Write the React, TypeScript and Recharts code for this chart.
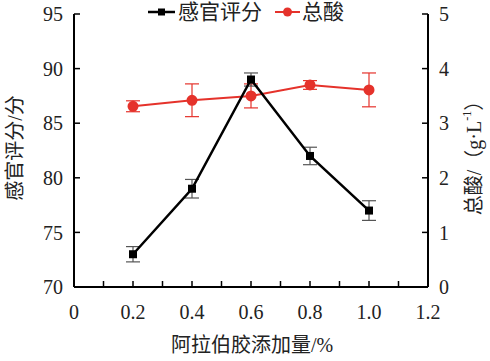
import { ComposedChart, Line, XAxis, YAxis, ErrorBar } from 'recharts'

// 阿拉伯胶添加量 (%)
const doses = [0.2, 0.4, 0.6, 0.8, 1.0]
// 感官评分 (left axis)
const sensoryScore = [73, 79, 89, 82, 77]
const sensoryErr = [0.7, 0.85, 0.6, 0.8, 0.9]
// 总酸 g/L (right axis)
const totalAcid = [3.31, 3.42, 3.5, 3.7, 3.61]
const acidErr = [0.1, 0.3, 0.22, 0.08, 0.31]

const xTicks = [0, 0.1, 0.2, 0.3, 0.4, 0.5, 0.6, 0.7, 0.8, 0.9, 1.0, 1.1, 1.2]
const leftTicks = [70, 75, 80, 85, 90, 95]
const rightTicks = [0, 1, 2, 3, 4, 5]

const FONT = '"Liberation Serif", "Noto Sans CJK SC", serif'
const RED = '#e5322b'

const data = doses.map((d, i) => ({
  dose: d,
  score: sensoryScore[i],
  scoreErr: sensoryErr[i],
  acid: totalAcid[i],
  acidErr: acidErr[i],
}))

const tickStyle = { fontSize: 20, fill: '#222', fontFamily: FONT }
const axisStroke = { stroke: '#000', strokeWidth: 2 }
const tickStroke = { stroke: '#000', strokeWidth: 1.5 }

function xLabel(v: number) {
  if (Math.round(v * 10) % 2 === 1) return ''
  return v === 0 ? '0' : v.toFixed(1)
}

function SquareDot(props: any) {
  const { cx, cy } = props
  if (cx == null || cy == null) return null
  return <rect x={cx - 4} y={cy - 4} width={8} height={8} fill="#000" />
}

export default function App() {
  return (
    <div style={{ position: 'absolute', left: 0, top: 0, width: 490, height: 361, background: '#fff' }}>
      <ComposedChart
        width={490}
        height={361}
        data={data}
        margin={{ top: 14, right: 0, bottom: 0, left: 0 }}
      >
        <XAxis
          dataKey="dose"
          type="number"
          domain={[0, 1.2]}
          ticks={xTicks}
          interval={0}
          tickFormatter={xLabel}
          height={74}
          tickSize={-6}
          tickMargin={24}
          tick={tickStyle}
          axisLine={axisStroke}
          tickLine={tickStroke}
        />
        <YAxis
          yAxisId="left"
          domain={[70, 95]}
          ticks={leftTicks}
          interval={0}
          width={74}
          tickSize={-6}
          tickMargin={17}
          tick={tickStyle}
          axisLine={axisStroke}
          tickLine={tickStroke}
        />
        <YAxis
          yAxisId="right"
          orientation="right"
          domain={[0, 5]}
          ticks={rightTicks}
          interval={0}
          width={62}
          tickSize={-6}
          tickMargin={17}
          tick={tickStyle}
          axisLine={axisStroke}
          tickLine={tickStroke}
        />
        <Line
          yAxisId="right"
          dataKey="acid"
          stroke={RED}
          strokeWidth={2}
          dot={{ r: 4.5, fill: RED, stroke: RED }}
          isAnimationActive={false}
        >
          <ErrorBar dataKey="acidErr" direction="y" width={7} stroke={RED} strokeWidth={1.2} />
        </Line>
        <Line
          yAxisId="left"
          dataKey="score"
          stroke="#000"
          strokeWidth={2.5}
          dot={<SquareDot />}
          isAnimationActive={false}
        >
          <ErrorBar dataKey="scoreErr" direction="y" width={7} stroke="#555" strokeWidth={1.2} />
        </Line>
      </ComposedChart>
      <svg
        width={490}
        height={361}
        style={{ position: 'absolute', left: 0, top: 0, pointerEvents: 'none' }}
        fontFamily={FONT}
      >
        {/* legend */}
        <line x1={148} y1={12} x2={175} y2={12} stroke="#000" strokeWidth={2.5} />
        <rect x={158} y={8.5} width={7} height={7} fill="#000" />
        <text x={178} y={12} fontSize={21} fill="#222" dominantBaseline="central">感官评分</text>
        <line x1={275} y1={12} x2={300} y2={12} stroke={RED} strokeWidth={2} />
        <circle cx={287.5} cy={12} r={4.5} fill={RED} />
        <text x={302} y={12} fontSize={21} fill="#222" dominantBaseline="central">总酸</text>
        {/* axis titles */}
        <text x={15} y={148} fontSize={20} fill="#222" textAnchor="middle" dominantBaseline="central" transform="rotate(-90, 15, 148)">
          感官评分/分
        </text>
        <text x={474} y={153} fontSize={20} fill="#222" textAnchor="middle" dominantBaseline="central" transform="rotate(-90, 474, 153)">
          总酸/（g·L<tspan fontSize={12} dy={-7}>-1</tspan><tspan dy={7}>）</tspan>
        </text>
        <text x={252} y={345} fontSize={20} fill="#222" textAnchor="middle" dominantBaseline="central">
          阿拉伯胶添加量/%
        </text>
      </svg>
    </div>
  )
}
